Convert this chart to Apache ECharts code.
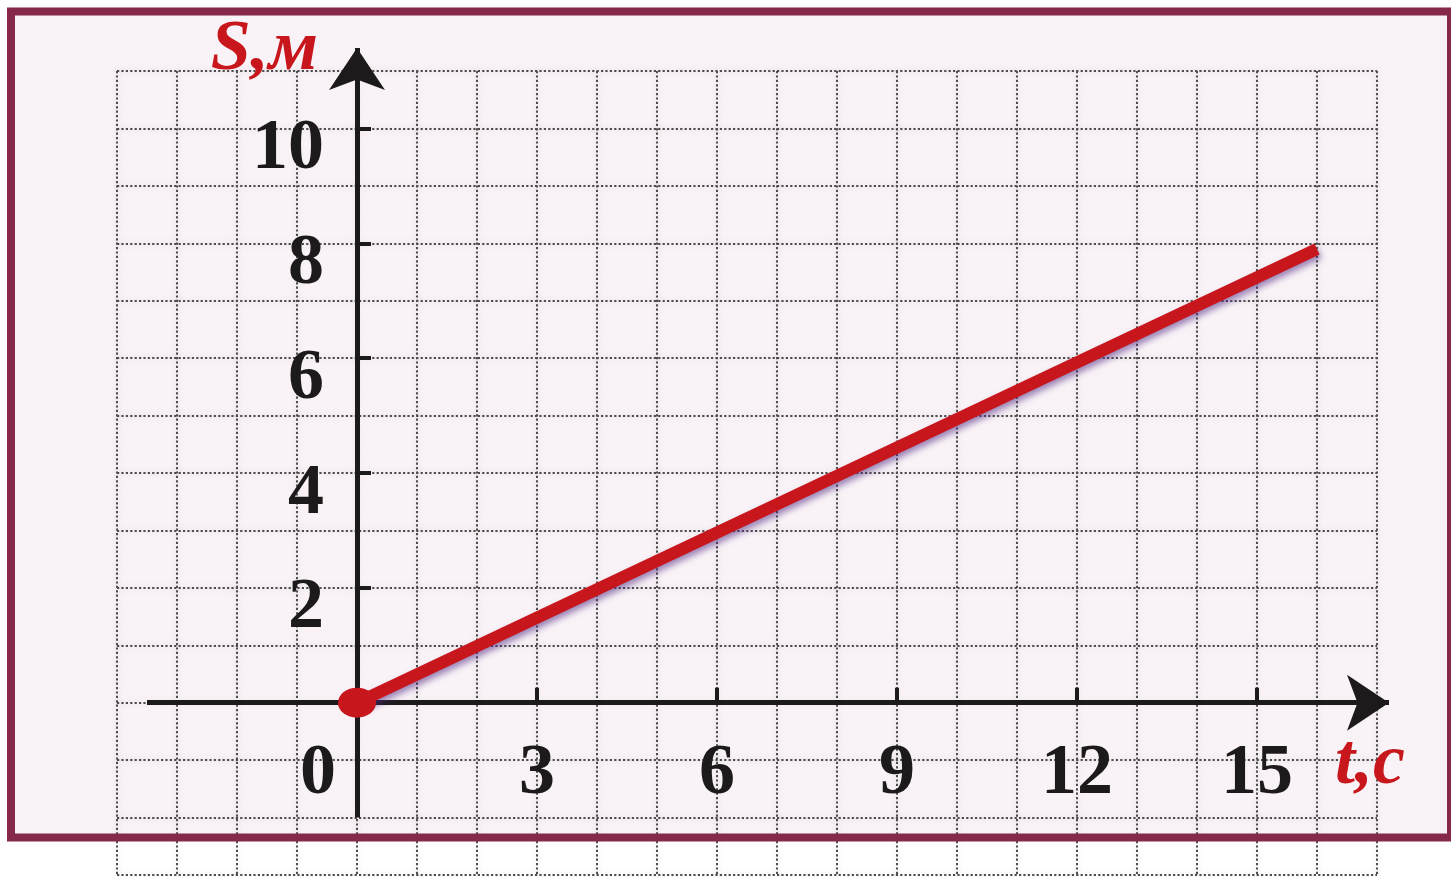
<!DOCTYPE html>
<html>
<head>
<meta charset="utf-8">
<title>S(t)</title>
<script src="https://cdn.jsdelivr.net/npm/echarts@6/dist/echarts.min.js"></script>
<style>
	html,body{margin:0;padding:0;background:#fff;}
	#graph{width:1451px;height:877px;}
</style>
</head>
<body>
<div id="graph"></div>
<script>
	// motion graph: time t (c) against distance S (м)
	var tValues = [0, 16];
	var sValues = [0, 7.9];
	var tTicks = [3, 6, 9, 12, 15];
	var tLabels = [0, 3, 6, 9, 12, 15];
	var sTicks = [2, 4, 6, 8, 10];
	var tRange = [-4, 17];
	var sRange = [-3, 11];
	// where the drawn arrows of the axes start and end (arrow tip at the end)
	var tAxisSpan = [-3.5, 17.2];
	var sAxisSpan = [-2, 11.4];

	var red = '#c8161d';
	var ink = '#1d1a1c';
	var serif = '"Liberation Serif", "DejaVu Serif", serif';

	var lineData = [];
	for (var i = 0; i < tValues.length; i++) {
		lineData.push(i == 0 ? [tValues[i], sValues[i]] : {value: [tValues[i], sValues[i]], symbol: 'none'});
	}

	var gridLine = {show: true, lineStyle: {color: '#4d4d4d', width: 2, type: [2.2, 2.2], shadowColor: 'rgba(0,0,0,0.18)', shadowBlur: 6}};
	var numFont = {color: ink, fontFamily: serif, fontSize: 72, fontWeight: 'bold'};
	var nameFont = {color: red, fontFamily: serif, fontSize: 72, fontStyle: 'italic', fontWeight: 'bold'};

	// grid 0 = whole squared paper, grid 1 = the quarter from the origin, its edges are the axes
	var unitX = 60, unitY = (875 - 71) / (sRange[1] - sRange[0]);
	var zeroX = 117 - tRange[0] * unitX;
	var zeroY = 71 + sRange[1] * unitY;

	var chart = echarts.init(document.getElementById('graph'));
	var option = {
		animation: false,
		backgroundColor: '#fff',
		graphic: [
			{type: 'rect', z: -100, shape: {x: 11, y: 11.5, width: 1440, height: 826}, style: {fill: '#f9f3f7'}},
			{type: 'rect', z: 100, shape: {x: 11, y: 11.5, width: 1440, height: 826}, style: {fill: 'none', stroke: '#86284a', lineWidth: 8}}
		],
		grid: [
			{left: 117, right: 74, top: 71, bottom: 2, containLabel: false, outerBoundsMode: 'none'},
			{left: zeroX, right: 74, top: 71, bottom: 877 - zeroY, containLabel: false, outerBoundsMode: 'none'}
		],
		xAxis: [
			{
				gridIndex: 0,
				type: 'value', min: tRange[0], max: tRange[1], interval: 1,
				axisLine: {show: false}, axisTick: {show: false}, axisLabel: {show: false},
				splitLine: gridLine
			},
			{
				gridIndex: 1,
				type: 'value', min: 0, max: tRange[1], interval: 1, position: 'bottom',
				name: '\nt,с',
				nameLocation: 'end',
				nameGap: -42,
				nameTextStyle: Object.assign({align: 'left', verticalAlign: 'middle', lineHeight: 124}, nameFont),
				axisLine: {show: false},
				axisTick: {show: true, inside: true, length: 15, customValues: tTicks, lineStyle: {color: ink, width: 4}},
				axisLabel: Object.assign({
					show: true,
					customValues: tLabels,
					margin: 36,
					formatter: function(v){
						return v === 0 ? '{z|0}' : String(v);
					},
					rich: {z: Object.assign({padding: [0, 78, 0, 0]}, numFont)}
				}, numFont),
				splitLine: {show: false}
			}
		],
		yAxis: [
			{
				gridIndex: 0,
				type: 'value', min: sRange[0], max: sRange[1], interval: 1,
				axisLine: {show: false}, axisTick: {show: false}, axisLabel: {show: false},
				splitLine: gridLine
			},
			{
				gridIndex: 1,
				type: 'value', min: 0, max: sRange[1], interval: 1, position: 'left',
				name: 'S,м',
				nameLocation: 'end',
				nameGap: 21,
				nameTextStyle: Object.assign({align: 'right', verticalAlign: 'middle', padding: [0, 39, 0, 0]}, nameFont),
				axisLine: {show: false},
				axisTick: {show: true, inside: true, length: 14, customValues: sTicks, lineStyle: {color: ink, width: 4}},
				axisLabel: Object.assign({
					show: true,
					customValues: sTicks,
					margin: 33,
					verticalAlign: 'top',
					lineHeight: 42
				}, numFont),
				splitLine: {show: false}
			}
		],
		series: [
			{
				name: 'axes',
				type: 'lines',
				coordinateSystem: 'cartesian2d',
				xAxisIndex: 0,
				yAxisIndex: 0,
				z: 3,
				clip: false,
				symbol: ['none', 'arrow'],
				symbolSize: 42,
				lineStyle: {color: ink, width: 5, opacity: 1, curveness: 0},
				data: [
					{coords: [[tAxisSpan[0], 0], [tAxisSpan[1], 0]]},
					{coords: [[0, sAxisSpan[0]], [0, sAxisSpan[1]]]}
				]
			},
			{
				name: 'S',
				type: 'line',
				xAxisIndex: 0,
				yAxisIndex: 0,
				z: 5,
				symbol: 'circle',
				symbolSize: [38, 30],
				showAllSymbol: true,
				itemStyle: {color: red},
				lineStyle: {
					color: red, width: 12, cap: 'butt',
					shadowColor: 'rgba(80,40,130,0.55)', shadowBlur: 6, shadowOffsetX: 2, shadowOffsetY: 4
				},
				data: lineData
			}
		]
	};
	chart.setOption(option);
</script>
</body>
</html>
